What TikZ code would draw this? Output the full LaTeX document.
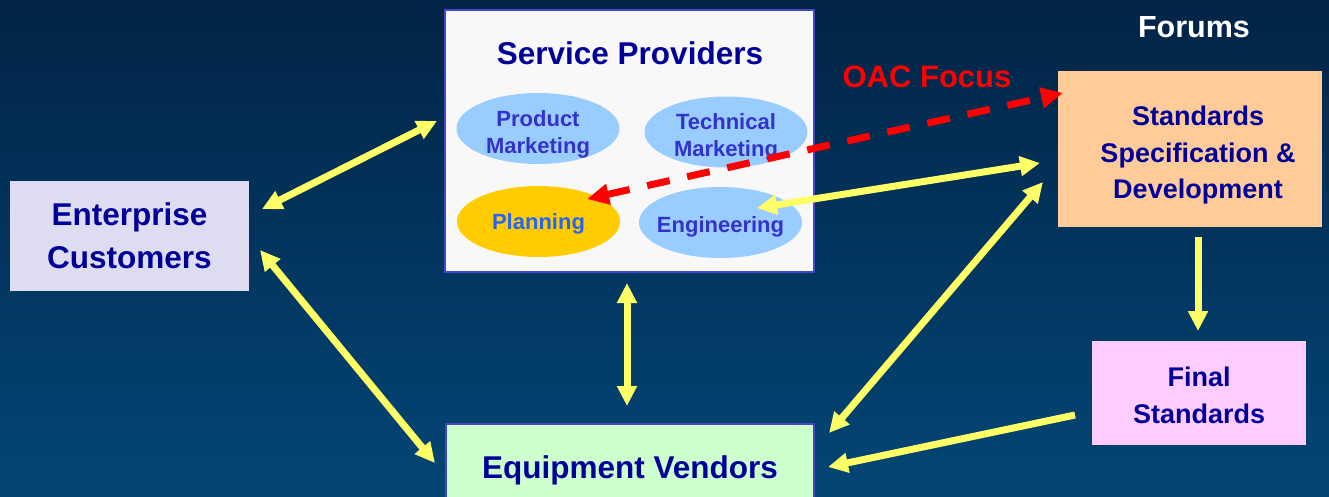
\documentclass[tikz,border=0pt]{standalone}
\usepackage{fontspec}
\setmainfont{Liberation Sans}
\usetikzlibrary{arrows.meta,shapes.geometric}
\definecolor{bgtop}{RGB}{2,36,70}
\definecolor{bgbot}{RGB}{3,70,118}
\definecolor{navy}{RGB}{0,0,153}
\definecolor{elltext}{RGB}{51,51,204}
\definecolor{plantext}{RGB}{40,100,240}
\definecolor{ellfill}{RGB}{153,204,255}
\definecolor{planfill}{RGB}{255,204,0}
\definecolor{spfill}{RGB}{248,248,248}
\definecolor{entfill}{RGB}{222,220,240}
\definecolor{evfill}{RGB}{204,255,204}
\definecolor{ssdfill}{RGB}{255,204,153}
\definecolor{fsfill}{RGB}{255,204,255}
\definecolor{boxline}{RGB}{70,70,200}
\definecolor{arrowyellow}{RGB}{255,255,102}
\definecolor{focusred}{RGB}{255,0,0}
\tikzset{
  boxnode/.style={rectangle, inner sep=0pt},
  bigtext/.style={text=navy, align=center, font=\bfseries\fontsize{31.5}{43}\selectfont},
  midtext/.style={text=navy, align=center, font=\bfseries\fontsize{27}{36.5}\selectfont},
  ellnode/.style={ellipse, inner sep=0pt, minimum width=163pt, minimum height=71pt, fill=ellfill},
  elltxt/.style={text=elltext, align=center, font=\bfseries\fontsize{22}{26.5}\selectfont},
  yarrow/.style={draw=arrowyellow, line width=7pt, {Triangle[length=20pt,width=19pt]}-{Triangle[length=20pt,width=19pt]}},
  yarrowone/.style={draw=arrowyellow, line width=7pt, -{Triangle[length=20pt,width=19pt]}},
  rarrow/.style={draw=focusred, line width=7pt, dash pattern=on 23pt off 18pt,
                 {Triangle[length=22pt,width=20pt]}-{Triangle[length=22pt,width=20pt]}}
}
\begin{document}
\begin{tikzpicture}[x=1pt,y=-1pt]
\useasboundingbox (0,0) rectangle (1329,496);
\clip (0,0) rectangle (1329,496);
\shade[top color=bgtop, bottom color=bgbot] (0,0) rectangle (1329,496);

% Service providers
\node[boxnode, fill=spfill, draw=boxline, line width=1.5pt, minimum width=369pt, minimum height=262pt] (sp) at (629.5,141) {};
\node[bigtext] (sptitle) at (630,53) {Service Providers};
\node[ellnode, label={[elltxt, yshift=-6pt]center:Product\\Marketing}] (pm) at (538,128.5) {};
\node[ellnode, label={[elltxt, yshift=-5.5pt]center:Technical\\Marketing}] (tm) at (726,132) {};
\node[ellnode, fill=planfill, label={[elltxt, text=plantext, yshift=-2.5pt]center:Planning}] (plan) at (538.5,221.5) {};
\node[ellnode, label={[elltxt, yshift=-4.5pt]center:Engineering}] (eng) at (720.5,222.5) {};

% Enterprise customers
\node[boxnode, fill=entfill, minimum width=239pt, minimum height=110pt, bigtext] (ent) at (129.5,236) {Enterprise\\Customers};

% Equipment vendors
\node[boxnode, fill=evfill, draw=boxline, line width=1.5pt, minimum width=368pt, minimum height=96pt] (ev) at (630,472) {};
\node[bigtext] (evtext) at (630,470) {Equipment Vendors};

% Standards spec & dev
\node[boxnode, fill=ssdfill, minimum width=264pt, minimum height=156pt] (ssd) at (1190,149) {};
\node[midtext] (ssdtext) at (1198,155.5) {Standards\\Specification \&\\Development};

% Final standards
\node[boxnode, fill=fsfill, minimum width=214pt, minimum height=104pt,
      label={[midtext, yshift=-2.5pt]center:Final\\Standards}] (fs) at (1199,393) {};

% Labels
\node[text=white, font=\bfseries\fontsize{30.5}{36}\selectfont] (forums) at (1194,27) {Forums};
\node[text=focusred, font=\bfseries\fontsize{31}{36}\selectfont] (oac) at (927,77) {OAC Focus};

% Arrow end points
\coordinate (a1s) at (262,209);
\coordinate (a1e) at (437,121);
\coordinate (a2s) at (260,250);
\coordinate (a2e) at (435,463);
\coordinate (a3s) at (627,283);
\coordinate (a3e) at (627,406);
\coordinate (a4s) at (757,208);
\coordinate (a4e) at (1040,163);
\coordinate (a5s) at (1043,182);
\coordinate (a5e) at (829,433);
\coordinate (a6s) at (1198,237);
\coordinate (a6e) at (1198,331);
\coordinate (a7s) at (1075,415);
\coordinate (a7e) at (828,467);
\coordinate (r1s) at (587,199);
\coordinate (r1e) at (1063,93);

\draw[yarrow] (a1s) -- (a1e);
\draw[yarrow] (a2s) -- (a2e);
\draw[yarrow] (a3s) -- (a3e);
\draw[yarrow] (a4s) -- (a4e);
\draw[yarrow] (a5s) -- (a5e);
\draw[yarrowone] (a6s) -- (a6e);
\draw[yarrowone] (a7s) -- (a7e);
\draw[rarrow] (r1s) -- (r1e);
\end{tikzpicture}
\end{document}
